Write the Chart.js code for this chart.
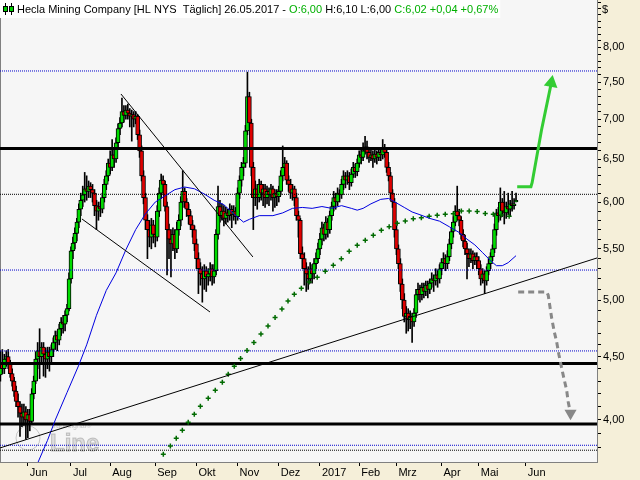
<!DOCTYPE html>
<html>
<head>
<meta charset="utf-8">
<script src="https://cdn.jsdelivr.net/npm/chart.js@4.4.1/dist/chart.umd.min.js"></script>
<style>
  html, body { margin: 0; padding: 0; background: #f5efd9; }
  canvas { display: block; }
</style>
</head>
<body>
<canvas id="chart" width="640" height="480"></canvas>
<script>
// bars are counted in trading days, 0 = 01.06.2016
const firstBar = -14;

const opens = [
  4.35,4.45,4.40,4.48,4.50,4.44,4.36,4.30,4.22,4.14,
  4.10,4.05,4.02,4.06,4.00,4.04,3.99,4.20,4.30,4.48,
  4.55,4.50,4.58,4.52,4.48,4.54,4.50,4.56,4.62,4.68,
  4.64,4.74,4.80,4.78,4.86,4.92,5.20,5.48,5.56,5.66,
  5.78,5.92,6.02,6.08,6.15,6.12,6.18,6.14,6.10,5.96,
  5.90,5.95,5.92,6.05,6.20,6.30,6.45,6.40,6.55,6.50,
  6.70,6.88,6.95,7.10,7.05,7.12,7.08,7.04,7.06,7.00,
  7.04,6.80,6.60,6.30,6.05,5.80,5.70,5.62,5.75,5.65,
  5.62,5.90,6.10,6.25,6.20,5.95,5.70,5.60,5.55,5.65,
  5.50,5.70,5.80,6.00,6.12,6.00,5.92,5.85,5.75,5.70,
  5.55,5.40,5.30,5.25,5.20,5.28,5.22,5.25,5.30,5.22,
  5.28,5.65,5.95,5.85,5.90,5.82,5.88,5.85,5.92,5.86,
  5.90,5.84,6.10,6.25,6.40,6.45,6.85,7.30,6.95,6.40,
  6.05,6.15,6.05,6.20,6.10,6.15,6.05,6.12,6.08,6.15,
  6.05,6.10,6.06,6.12,6.30,6.40,6.45,6.25,6.20,6.10,
  6.15,6.05,5.85,5.80,5.45,5.40,5.30,5.25,5.20,5.30,
  5.25,5.35,5.40,5.50,5.60,5.72,5.65,5.78,5.70,5.85,
  5.95,6.05,6.00,6.10,6.08,6.20,6.30,6.25,6.30,6.22,
  6.32,6.40,6.35,6.45,6.55,6.52,6.60,6.65,6.58,6.52,
  6.55,6.50,6.56,6.52,6.58,6.55,6.62,6.58,6.40,6.30,
  6.10,6.00,5.70,5.50,5.35,5.15,5.00,4.85,4.88,4.82,
  4.85,4.80,4.88,5.05,5.10,5.05,5.12,5.08,5.14,5.10,
  5.16,5.20,5.18,5.24,5.20,5.30,5.36,5.40,5.35,5.42,
  5.55,5.68,5.78,5.90,5.85,5.80,5.65,5.58,5.50,5.45,
  5.40,5.45,5.38,5.42,5.38,5.30,5.20,5.25,5.18,5.28,
  5.35,5.42,5.50,5.70,5.88,5.85,6.00,5.90,5.88,5.95,
  5.92,5.98,5.96,6.00
];
const highs = [
  4.55,4.56,4.52,4.55,4.56,4.47,4.40,4.33,4.26,4.20,
  4.14,4.12,4.12,4.10,4.08,4.08,4.24,4.34,4.54,4.62,
  4.74,4.62,4.62,4.57,4.58,4.58,4.60,4.66,4.72,4.72,
  4.78,4.84,4.86,4.90,4.96,5.26,5.52,5.62,5.72,5.82,
  5.98,6.10,6.18,6.34,6.30,6.24,6.22,6.20,6.14,6.02,
  6.00,6.00,6.10,6.26,6.36,6.50,6.60,6.74,6.62,6.76,
  6.94,7.02,7.28,7.18,7.18,7.20,7.14,7.12,7.10,7.10,
  7.06,6.86,6.66,6.36,6.10,5.86,5.80,5.82,5.80,5.74,
  5.96,6.16,6.32,6.30,6.24,6.00,5.76,5.70,5.72,5.70,
  5.78,5.86,6.06,6.36,6.16,6.04,5.98,5.90,5.80,5.74,
  5.60,5.46,5.36,5.32,5.34,5.32,5.30,5.36,5.34,5.34,
  5.70,6.18,6.02,5.98,5.96,5.94,5.92,5.98,5.96,5.96,
  5.94,6.16,6.30,6.46,6.52,6.92,7.64,7.36,7.00,6.46,
  6.24,6.20,6.26,6.24,6.20,6.20,6.18,6.16,6.20,6.18,
  6.14,6.14,6.18,6.36,6.66,6.52,6.48,6.30,6.26,6.20,
  6.18,6.10,5.90,5.82,5.52,5.46,5.36,5.32,5.36,5.34,
  5.40,5.46,5.56,5.66,5.78,5.76,5.84,5.82,5.90,6.00,
  6.12,6.10,6.16,6.14,6.26,6.36,6.34,6.36,6.34,6.38,
  6.46,6.44,6.50,6.60,6.62,6.70,6.78,6.72,6.62,6.64,
  6.60,6.62,6.60,6.64,6.62,6.74,6.68,6.62,6.46,6.34,
  6.14,6.04,5.74,5.54,5.40,5.20,5.06,4.94,4.92,4.90,
  4.88,4.92,5.10,5.16,5.14,5.16,5.16,5.18,5.18,5.20,
  5.26,5.24,5.30,5.28,5.34,5.40,5.46,5.44,5.48,5.60,
  5.72,5.84,5.96,6.18,5.92,5.84,5.70,5.64,5.56,5.50,
  5.50,5.48,5.46,5.46,5.42,5.34,5.30,5.28,5.32,5.40,
  5.46,5.54,5.76,5.92,5.94,6.16,6.04,6.12,6.00,6.10,
  6.02,6.12,6.04,6.10
];
const lows = [
  4.30,4.36,4.36,4.42,4.40,4.33,4.26,4.18,4.10,4.02,
  3.88,3.95,3.96,3.86,3.87,3.92,3.97,4.16,4.28,4.40,
  4.32,4.45,4.34,4.33,4.40,4.38,4.44,4.50,4.56,4.55,
  4.60,4.68,4.70,4.72,4.80,4.90,5.16,5.40,5.50,5.58,
  5.72,5.85,5.95,6.00,6.02,6.05,6.05,6.00,5.85,5.70,
  5.80,5.84,5.88,6.00,6.14,6.24,6.32,6.36,6.40,6.46,
  6.64,6.80,6.90,6.96,7.00,7.00,6.90,6.72,6.90,6.94,
  6.74,6.52,6.24,5.98,5.70,5.40,5.52,5.50,5.56,5.52,
  5.58,5.84,6.04,6.10,5.90,5.24,5.40,5.22,5.48,5.40,
  5.46,5.64,5.74,5.94,5.94,5.84,5.76,5.70,5.62,5.48,
  5.30,5.06,5.14,4.98,5.10,5.08,5.14,5.18,5.14,5.16,
  5.24,5.60,5.78,5.80,5.74,5.76,5.78,5.80,5.72,5.80,
  5.76,5.80,6.04,6.18,6.30,6.40,6.80,6.90,6.30,5.70,
  5.96,5.92,6.00,6.02,5.96,5.94,5.98,5.96,6.02,5.90,
  5.94,5.96,6.00,6.08,6.24,6.34,6.20,6.12,6.04,6.02,
  5.96,5.80,5.62,5.40,5.30,5.14,5.08,5.10,5.16,5.16,
  5.20,5.30,5.36,5.44,5.54,5.58,5.60,5.62,5.66,5.80,
  5.90,5.92,5.96,6.00,6.04,6.14,6.16,6.20,6.14,6.18,
  6.28,6.28,6.30,6.40,6.44,6.48,6.56,6.50,6.46,6.48,
  6.40,6.46,6.44,6.48,6.48,6.50,6.52,6.34,6.24,6.02,
  5.94,5.62,5.44,5.30,5.08,4.92,4.80,4.70,4.72,4.74,
  4.62,4.76,4.84,5.00,4.98,5.00,5.02,5.04,5.02,5.06,
  5.12,5.08,5.14,5.12,5.16,5.24,5.30,5.28,5.30,5.38,
  5.50,5.62,5.74,5.80,5.74,5.60,5.52,5.44,5.20,5.32,
  5.36,5.30,5.34,5.30,5.24,5.14,5.16,5.06,5.14,5.24,
  5.30,5.38,5.46,5.64,5.78,5.80,5.84,5.76,5.82,5.86,
  5.84,5.90,5.92,6.00
];
const closes = [
  4.45,4.40,4.48,4.50,4.44,4.36,4.30,4.22,4.14,4.10,
  4.05,4.02,4.06,4.00,4.04,3.99,4.20,4.30,4.48,4.55,
  4.50,4.58,4.52,4.48,4.54,4.50,4.56,4.62,4.68,4.64,
  4.74,4.80,4.78,4.86,4.92,5.20,5.48,5.56,5.66,5.78,
  5.92,6.02,6.08,6.15,6.12,6.18,6.14,6.10,5.96,5.90,
  5.95,5.92,6.05,6.20,6.30,6.45,6.40,6.55,6.50,6.70,
  6.88,6.95,7.10,7.05,7.12,7.08,7.04,7.06,7.00,7.04,
  6.80,6.60,6.30,6.05,5.80,5.70,5.62,5.75,5.65,5.62,
  5.90,6.10,6.25,6.20,5.95,5.70,5.60,5.55,5.65,5.50,
  5.70,5.80,6.00,6.12,6.00,5.92,5.85,5.75,5.70,5.55,
  5.40,5.30,5.25,5.20,5.28,5.22,5.25,5.30,5.22,5.28,
  5.65,5.95,5.85,5.90,5.82,5.88,5.85,5.92,5.86,5.90,
  5.84,6.10,6.25,6.40,6.45,6.85,7.30,6.95,6.40,6.05,
  6.15,6.05,6.20,6.10,6.15,6.05,6.12,6.08,6.15,6.05,
  6.10,6.06,6.12,6.30,6.40,6.45,6.25,6.20,6.10,6.15,
  6.05,5.85,5.80,5.45,5.40,5.30,5.25,5.20,5.30,5.25,
  5.35,5.40,5.50,5.60,5.72,5.65,5.78,5.70,5.85,5.95,
  6.05,6.00,6.10,6.08,6.20,6.30,6.25,6.30,6.22,6.32,
  6.40,6.35,6.45,6.55,6.52,6.60,6.65,6.58,6.52,6.55,
  6.50,6.56,6.52,6.58,6.55,6.62,6.58,6.40,6.30,6.10,
  6.00,5.70,5.50,5.35,5.15,5.00,4.85,4.88,4.82,4.85,
  4.80,4.88,5.05,5.10,5.05,5.12,5.08,5.14,5.10,5.16,
  5.20,5.18,5.24,5.20,5.30,5.36,5.40,5.35,5.42,5.55,
  5.68,5.78,5.90,5.85,5.80,5.65,5.58,5.50,5.45,5.40,
  5.45,5.38,5.42,5.38,5.30,5.20,5.25,5.18,5.28,5.35,
  5.42,5.50,5.70,5.88,5.85,6.00,5.90,5.88,5.95,5.92,
  5.98,5.96,5.98,6.02
];

// moving average (blue), read at some bars
const maIdx = [4,10,14,20,26,30,35,40,45,50,55,60,65,70,75,80,85,90,95,100,
  105,110,113,118,125,130,135,140,145,150,155,160,165,168,171,175,180,184,188,192,
  196,200,205,210,215,220,224,228,232,236,239,242,245,249];
const maVal = [3.66,3.85,4.00,4.21,4.43,4.60,4.86,5.09,5.26,5.49,5.70,5.87,6.00,6.07,6.14,6.17,6.15,6.09,6.02,5.97,
  5.87,5.78,5.81,5.85,5.85,5.88,5.93,5.94,5.93,5.95,5.93,5.96,5.93,5.91,5.93,5.98,6.03,6.04,5.99,5.94,
  5.89,5.86,5.82,5.79,5.73,5.67,5.60,5.54,5.46,5.38,5.33,5.33,5.36,5.43];

// green "+" curve
const dotIdx = [69.1,72.7,75.7,78.8,81.8,84.9,88.0,92.0,95.6,99.2,102.2,105.3,
  108.5,111.8,115.3,118.9,122.5,126.1,129.6,132.7,
  135.9,139.5,143.5,147.6,151.7,155.8,159.9,163.9,168.0,172.1,176.2,
  180.3,184.3,188.4,192.5,196.6,200.7,204.7,208.8,212.9,217.0,221.1,225.1,229.2,233.3,237.4,241.5,245.5];
const dotVal = [3.753,3.811,3.866,3.924,3.983,4.043,4.103,4.165,4.227,4.291,4.355,4.420,
  4.485,4.552,4.620,4.694,4.764,4.840,4.917,4.991,
  5.054,5.111,5.171,5.216,5.275,5.334,5.400,5.475,5.536,5.588,5.640,
  5.693,5.731,5.768,5.792,5.817,5.828,5.843,5.854,5.865,5.871,5.901,5.901,5.896,5.873,5.865,5.857,5.843];

// horizontal levels
const blueLevels = [7.657, 5.287, 4.548, 3.816];
const blackLevels = [6.627, 4.442, 3.970];
const dottedLevels = [6.087, 3.781];

// trend lines [bar, price]
const supportLine = [[-14.2, 3.797], [290.3, 5.407]];
const channelTop = [[47.5, 7.336], [114.8, 5.417]];
const channelBottom = [[27.6, 5.814], [92.9, 4.890]];

// scenario arrows [bar, price]
const upArrow = [[249.6, 6.174], [256.6, 6.174], [257.2, 6.22], [262.0, 6.86], [267.0, 7.49]];
const downArrow = [[250.1, 5.076], [264.6, 5.076], [265.4, 5.047], [267.2, 4.833], [268.5, 4.714],
  [269.7, 4.627], [270.9, 4.514], [272.3, 4.404], [273.4, 4.323], [274.8, 4.230], [275.6, 4.138], [276.8, 4.05]];

const monthTicks = [0, 22, 42, 65, 86, 107, 128, 149, 169, 188, 211, 230, 254];
const monthLabels = ['Jun', 'Jul', 'Aug', 'Sep', 'Okt', 'Nov', 'Dez', '2017', 'Feb', 'Mrz', 'Apr', 'Mai', 'Jun'];
const priceLabels = [4, 4.5, 5, 5.5, 6, 6.5, 7, 7.5, 8];

const titleParts = [
  ['Hecla Mining Company [HL NYS  Täglich] 26.05.2017 - ', '#000000'],
  ['O:6,00', '#00b000'],
  [' H:6,10 L:6,00 ', '#000000'],
  ['C:6,02 +0,04 +0,67%', '#00b000']
];

const xMin = -14.2, xMax = 290.3;
const yMin = 3.699, yMax = 8.738;

const FONT = '"Liberation Sans", Arial, sans-serif';

const xs = closes.map((c, i) => firstBar + i);
const wickData = xs.map((x, i) => ({ x: x, y: [lows[i], highs[i]] }));
const bodyData = xs.map((x, i) => ({ x: x, y: [opens[i], closes[i]] }));
const bodyColors = closes.map((c, i) => c >= opens[i] ? '#00dc00' : '#e00000');

// minor ticks every 0.10
const yTicks = [];
for (let k = 38; k <= 87; k++) yTicks.push(k / 10);

function toPts(arr) {
  return arr.map(p => ({ x: p[0], y: p[1] }));
}

function level(v, color, width, dash) {
  return {
    type: 'line', data: [{ x: xMin, y: v }, { x: xMax, y: v }],
    borderColor: color, borderWidth: width, borderDash: dash,
    pointRadius: 0, order: 3
  };
}

const datasets = [];
blueLevels.forEach(v => datasets.push(level(v, '#0000cc', 1, [1, 1])));
dottedLevels.forEach(v => datasets.push(level(v, '#000000', 1, [1, 1])));
blackLevels.forEach(v => datasets.push(level(v, '#000000', 3, [])));

datasets.push({
  type: 'bar', data: wickData, backgroundColor: '#000000',
  barThickness: 1, grouped: false, order: 6
});
datasets.push({
  type: 'bar', data: bodyData, backgroundColor: bodyColors,
  borderColor: '#000000', borderWidth: 1, borderSkipped: false,
  barThickness: 4, grouped: false, order: 5
});
datasets.push({
  type: 'line', data: maIdx.map((x, i) => ({ x: x, y: maVal[i] })),
  borderColor: '#0000e0', borderWidth: 1, pointRadius: 0, order: 2
});
datasets.push({
  type: 'line', data: dotIdx.map((x, i) => ({ x: x, y: dotVal[i] })),
  showLine: false, pointStyle: 'cross', pointRadius: 2.5,
  pointBorderColor: '#006a00', pointBorderWidth: 1.5, order: 2
});
[supportLine, channelTop, channelBottom].forEach(l => datasets.push({
  type: 'line', data: toPts(l), borderColor: '#000000', borderWidth: 1,
  pointRadius: 0, order: 1
}));
datasets.push({
  type: 'line', data: toPts(upArrow), borderColor: '#33cc33', borderWidth: 3,
  pointRadius: upArrow.map((p, i) => i === upArrow.length - 1 ? 5 : 0),
  pointStyle: 'triangle', pointRotation: 10,
  pointBackgroundColor: '#33cc33', pointBorderColor: '#33cc33', order: 0
});
datasets.push({
  type: 'line', data: toPts(downArrow), borderColor: '#888888', borderWidth: 3,
  borderDash: [6, 4],
  pointRadius: downArrow.map((p, i) => i === downArrow.length - 1 ? 4 : 0),
  pointStyle: 'triangle', pointRotation: 180,
  pointBackgroundColor: '#888888', pointBorderColor: '#888888', order: 0
});

const backdrop = {
  id: 'backdrop',
  beforeDraw(chart) {
    const { ctx, chartArea: a } = chart;
    ctx.save();
    ctx.fillStyle = '#f5efd9';
    ctx.fillRect(0, 0, chart.width, chart.height);
    ctx.fillStyle = '#f6f6f6';
    ctx.fillRect(a.left, a.top, a.right - a.left, a.bottom - a.top);
    ctx.strokeStyle = '#808080';
    ctx.beginPath();
    ctx.moveTo(a.left + 0.5, a.top);
    ctx.lineTo(a.left + 0.5, a.bottom);
    ctx.stroke();
    ctx.restore();
  },
  beforeDatasetsDraw(chart) {
    // faint watermark, bottom left
    const { ctx, chartArea: a } = chart;
    ctx.save();
    ctx.globalAlpha = 0.35;
    ctx.fillStyle = '#b0b0b0';
    ctx.strokeStyle = '#707070';
    ctx.lineWidth = 1;
    ctx.beginPath();
    ctx.arc(a.left + 28, a.bottom - 24, 12, 0, Math.PI * 2);
    ctx.stroke();
    ctx.font = 'bold 24px ' + FONT;
    ctx.textBaseline = 'alphabetic';
    ctx.fillText('Line', a.left + 50, a.bottom - 11);
    ctx.strokeText('Line', a.left + 50, a.bottom - 11);
    ctx.font = '7px ' + FONT;
    ctx.fillStyle = '#606060';
    ctx.fillText('tradesignal\u00ae', a.left + 52, a.bottom - 34);
    ctx.restore();
  },
  afterDraw(chart) {
    const { ctx } = chart;
    ctx.save();
    ctx.font = '11px ' + FONT;
    ctx.textBaseline = 'middle';
    let x = 17;
    const w = titleParts.reduce((s, p) => s + ctx.measureText(p[0]).width, 0);
    ctx.fillStyle = '#ffffff';
    ctx.fillRect(0, 0, x + w + 2, 18);
    // candle icon
    [5, 11].forEach(cx => {
      ctx.fillStyle = '#000';
      ctx.fillRect(cx, 3, 1, 12);
      ctx.fillRect(cx - 2, 6, 5, 6);
      ctx.fillStyle = '#00cc00';
      ctx.fillRect(cx - 1, 7, 3, 4);
    });
    titleParts.forEach(p => {
      ctx.fillStyle = p[1];
      ctx.fillText(p[0], x, 10);
      x += ctx.measureText(p[0]).width;
    });
    ctx.fillStyle = '#000';
    ctx.fillText('$', 602, 10);
    ctx.restore();
  }
};

new Chart(document.getElementById('chart'), {
  type: 'bar',
  data: { datasets: datasets },
  options: {
    responsive: false,
    animation: false,
    devicePixelRatio: 1,
    events: [],
    layout: { padding: 0, autoPadding: false },
    plugins: { legend: { display: false }, tooltip: { enabled: false } },
    scales: {
      x: {
        type: 'linear', position: 'bottom', min: xMin, max: xMax,
        offset: false, bounds: 'data',
        grid: { drawOnChartArea: false, drawTicks: true, tickLength: 4, tickColor: '#000', offset: false },
        border: { display: true, color: '#808080' },
        ticks: {
          autoSkip: false, maxRotation: 0, align: 'start', labelOffset: 2, padding: 0,
          color: '#000', font: { family: FONT, size: 11 },
          callback: (v, i) => monthLabels[i]
        },
        afterBuildTicks: s => { s.ticks = monthTicks.map(v => ({ value: v })); },
        afterFit: s => { s.height = 18; s.paddingLeft = 0; s.paddingRight = 0; }
      },
      y: {
        type: 'logarithmic', position: 'right', min: yMin, max: yMax,
        bounds: 'data', beginAtZero: false,
        grid: { drawOnChartArea: false, drawTicks: true, tickLength: 4, tickColor: '#000' },
        border: { display: true, color: '#808080' },
        ticks: {
          autoSkip: false, padding: 2, color: '#000', font: { family: FONT, size: 11 },
          callback: v => priceLabels.includes(v) ? v.toFixed(2).replace('.', ',') : ''
        },
        afterBuildTicks: s => { s.ticks = yTicks.map(v => ({ value: v })); },
        afterFit: s => { s.width = 43; s.paddingTop = 0; s.paddingBottom = 0; }
      }
    }
  },
  plugins: [backdrop]
});
</script>
</body>
</html>
